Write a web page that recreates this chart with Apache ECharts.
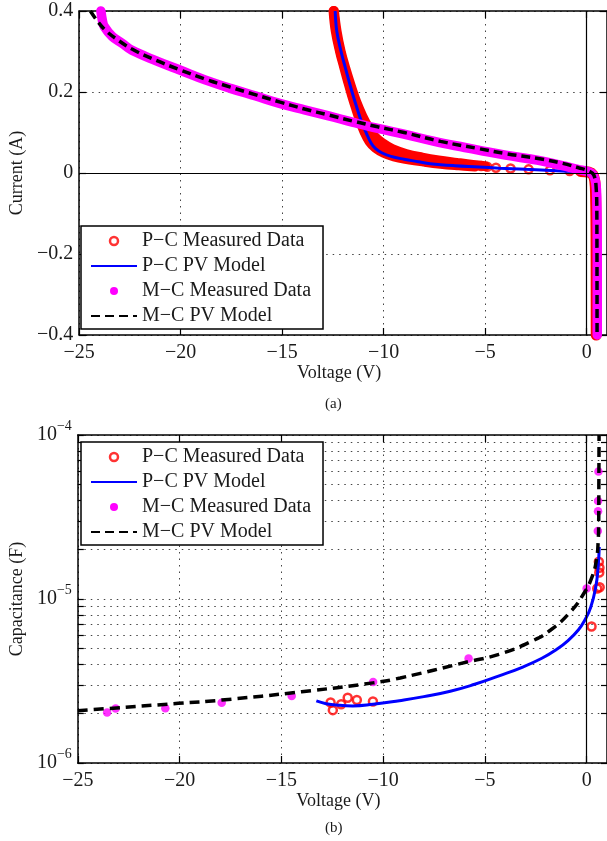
<!DOCTYPE html>
<html>
<head>
<meta charset="utf-8">
<script src="https://cdn.jsdelivr.net/npm/echarts@6/dist/echarts.min.js"></script>
<style>
  html, body { margin: 0; padding: 0; background: #fff; }
  #chart { width: 607px; height: 841px; }
</style>
</head>
<body>
<div id="chart"></div>
<script>
// ---- Panel (a): current vs. voltage, [V, A] ----
const pcMeasuredTail = [
  [-5.2, 0.017], [-4.9, 0.0155], [-4.47, 0.013], [-3.75, 0.011],
  [-2.86, 0.009], [-1.81, 0.007], [-0.84, 0.005]
];
const pcMeasuredSweepA = [
  [-12.47, 0.40], [-12.36, 0.35], [-12.15, 0.30], [-11.95, 0.262], [-11.75, 0.225],
  [-11.55, 0.19], [-11.35, 0.158], [-11.15, 0.128], [-10.95, 0.102], [-10.7, 0.078],
  [-10.4, 0.062], [-10.0, 0.050], [-9.5, 0.041], [-8.8, 0.034], [-8.0, 0.028],
  [-7.2, 0.023], [-6.3, 0.019], [-5.5, 0.016]
];
const pcMeasuredSweepB = [
  [-12.45, 0.40], [-12.32, 0.35], [-12.12, 0.30], [-11.9, 0.26], [-11.62, 0.215],
  [-11.35, 0.175], [-11.05, 0.14], [-10.75, 0.112], [-10.45, 0.09], [-10.05, 0.073],
  [-9.58, 0.059], [-8.9, 0.047], [-8.1, 0.038], [-7.3, 0.031], [-6.4, 0.025],
  [-5.6, 0.020], [-5.0, 0.017]
];
const pcMeasuredKnee = [
  [-0.3, 0.004], [0.1, 0.002], [0.3, -0.004], [0.4, -0.02], [0.44, -0.06],
  [0.46, -0.15], [0.47, -0.4]
];
const pcModelIV = [
  [-12.39, 0.40], [-12.31, 0.35], [-12.1, 0.30], [-11.9, 0.262], [-11.7, 0.225],
  [-11.5, 0.19], [-11.3, 0.158], [-11.1, 0.128], [-10.85, 0.098], [-10.6, 0.072],
  [-10.4, 0.060], [-10.1, 0.050], [-9.64, 0.041], [-9.0, 0.034], [-8.3, 0.028],
  [-7.7, 0.023], [-6.5, 0.018], [-5.3, 0.015], [-4.3, 0.012], [-3.0, 0.009],
  [-2.0, 0.007], [-1.0, 0.0045], [-0.3, 0.003], [0.05, 0.002], [0.25, 0.0],
  [0.35, -0.01], [0.4, -0.03], [0.43, -0.08], [0.45, -0.2], [0.46, -0.4]
];
const mcMeasuredIV = [
  [-23.93, 0.40], [-23.85, 0.375], [-23.77, 0.362], [-23.37, 0.337], [-22.88, 0.32],
  [-22.4, 0.303], [-21.2, 0.277], [-19.98, 0.253], [-18.8, 0.23], [-17.55, 0.209],
  [-16.3, 0.19], [-15.13, 0.172], [-13.9, 0.156], [-12.71, 0.141], [-11.5, 0.125],
  [-10.29, 0.110], [-9.0, 0.096], [-7.5, 0.078], [-6.0, 0.063], [-5.28, 0.056],
  [-4.0, 0.044], [-2.37, 0.031], [-1.2, 0.018], [-0.44, 0.009], [0.1, 0.003],
  [0.3, -0.003], [0.45, -0.025], [0.5, -0.07], [0.52, -0.2], [0.52, -0.4]
];
const mcModelIV = [
  [-24.45, 0.40], [-24.1, 0.375], [-23.7, 0.352], [-23.2, 0.332], [-22.4, 0.306],
  [-21.2, 0.278], [-20.0, 0.254], [-18.8, 0.232], [-17.55, 0.212], [-16.3, 0.193],
  [-15.1, 0.175], [-13.9, 0.158], [-12.7, 0.143], [-11.5, 0.128], [-10.3, 0.114],
  [-9.0, 0.100], [-7.2, 0.078], [-5.3, 0.060], [-4.0, 0.048], [-2.4, 0.036],
  [-1.2, 0.024], [-0.4, 0.013], [0.1, 0.005], [0.35, -0.005], [0.47, -0.04],
  [0.5, -0.1], [0.51, -0.4]
];

// ---- Panel (b): capacitance vs. voltage, [V, F] ----
const pcMeasuredCV = [
  [-12.58, 2.34e-6], [-12.47, 2.10e-6], [-12.06, 2.28e-6], [-11.74, 2.50e-6],
  [-11.29, 2.42e-6], [-10.50, 2.37e-6], [0.24, 6.8e-6], [0.52, 1.16e-5],
  [0.64, 1.18e-5], [0.62, 1.45e-5], [0.60, 1.69e-5], [0.63, 1.55e-5]
];
const pcModelCV = [
  [-13.28, 2.39e-6], [-12.8, 2.30e-6], [-12.2, 2.25e-6], [-11.5, 2.23e-6],
  [-10.5, 2.28e-6], [-9.2, 2.40e-6], [-8.0, 2.54e-6], [-6.7, 2.74e-6],
  [-5.5, 3.02e-6], [-4.3, 3.40e-6], [-3.2, 3.82e-6], [-2.2, 4.35e-6],
  [-1.5, 4.9e-6], [-0.9, 5.6e-6], [-0.4, 6.5e-6], [-0.1, 7.4e-6],
  [0.2, 8.9e-6], [0.45, 1.19e-5], [0.56, 1.55e-5], [0.62, 2.08e-5]
];
const mcMeasuredCV = [
  [-23.56, 2.03e-6], [-23.14, 2.15e-6], [-20.70, 2.16e-6], [-17.93, 2.33e-6],
  [-14.49, 2.56e-6], [-10.49, 3.12e-6], [-5.80, 4.33e-6], [0.0, 1.16e-5],
  [0.55, 2.6e-5], [0.56, 3.43e-5], [0.56, 3.96e-5], [0.58, 6.0e-5]
];
const mcModelCV = [
  [-25, 2.08e-6], [-23.7, 2.14e-6], [-20.06, 2.31e-6], [-17.93, 2.42e-6],
  [-14.0, 2.72e-6], [-10.5, 3.08e-6], [-9.16, 3.3e-6], [-5.8, 4.15e-6],
  [-4.31, 4.6e-6], [-2.74, 5.5e-6], [-1.77, 6.47e-6], [-0.78, 8.4e-6],
  [-0.14, 1.08e-5], [0.27, 1.37e-5], [0.48, 1.73e-5], [0.57, 2.3e-5],
  [0.59, 2.8e-5], [0.6, 5.0e-5], [0.61, 1.0e-4]
];

// ---- axis ticks and labels ----
const voltageTicks = [-25, -20, -15, -10, -5, 0];
const currentTicks = [-0.4, -0.2, 0, 0.2, 0.4];
const capDecades = [1e-6, 1e-5, 1e-4];
const capGridTicks = [
  1e-6, 2e-6, 3e-6, 4e-6, 5e-6, 6e-6, 7e-6, 8e-6, 9e-6,
  1e-5, 2e-5, 3e-5, 4e-5, 5e-5, 6e-5, 7e-5, 8e-5, 9e-5, 1e-4
];
const legendNames = ['P−C Measured Data', 'P−C PV Model', 'M−C Measured Data', 'M−C PV Model'];

const SERIF = '"Liberation Serif", "DejaVu Serif", serif';
const TEXT = '#1a1a1a';
const RED = '#ff0000', BLUE = '#0000ff', MAGENTA = '#ff00ff';
const CLEAR = 'rgba(0,0,0,0)';

const fmtSigned = v => (v < 0 ? '−' + Math.abs(v) : String(v));
const fmtPow = v => {
  const e = Math.round(Math.log10(v));
  return '10{e|' + (e < 0 ? '−' : '') + Math.abs(e) + '}';
};

const gridDots = { show: true, lineStyle: { type: [1.5, 5], color: '#444', width: 1 } };
const axisLine = { show: true, onZero: false, lineStyle: { color: '#000', width: 1.5 } };

function tickCfg(values, len) {
  return { show: true, inside: true, length: len, customValues: values,
           lineStyle: { color: '#000', width: 1.2 } };
}

function xAxes(gridIndex) {
  return [
    {
      type: 'value', gridIndex, position: 'bottom', min: -25, max: 1,
      axisLine, axisTick: tickCfg(voltageTicks, 7),
      axisLabel: { customValues: voltageTicks, formatter: fmtSigned, margin: 8,
                   fontFamily: SERIF, fontSize: 20, color: TEXT },
      splitLine: gridDots,
      name: 'Voltage (V)', nameLocation: 'middle', nameGap: 29,
      nameTextStyle: { fontFamily: SERIF, fontSize: 18, color: TEXT, padding: [0, 8, 0, 0] }
    },
    {
      type: 'value', gridIndex, position: 'top', min: -25, max: 1,
      axisLine, axisTick: tickCfg(voltageTicks, 7),
      axisLabel: { show: false }, splitLine: { show: false }
    }
  ];
}

const leftName = text => ({
  name: text, nameLocation: 'middle', nameGap: 50, nameRotate: 90,
  nameTextStyle: { fontFamily: SERIF, fontSize: 18, color: TEXT }
});

function legendCfg(top) {
  return {
    orient: 'vertical', left: 81, top,
    itemWidth: 46, itemHeight: 8, itemGap: 5,
    padding: [5, 12, 3, 9],
    backgroundColor: '#fff', borderColor: '#000', borderWidth: 1.5, borderRadius: 0,
    selectedMode: false, z: 10,
    textStyle: { fontFamily: SERIF, fontSize: 20, color: TEXT },
    data: [
      { name: legendNames[0], icon: 'circle',
        itemStyle: { color: CLEAR, borderColor: RED, borderWidth: 2.5 } },
      { name: legendNames[1], itemStyle: { color: CLEAR, borderColor: CLEAR, borderWidth: 0 } },
      { name: legendNames[2], icon: 'circle',
        itemStyle: { color: MAGENTA, borderWidth: 0 } },
      { name: legendNames[3], itemStyle: { color: CLEAR, borderColor: CLEAR, borderWidth: 0 } }
    ]
  };
}

const thick = (color, width) => ({ color, width, cap: 'round', join: 'round' });

const option = {
  animation: false,
  backgroundColor: '#fff',
  grid: [
    { left: 73, top: 11, width: 534, height: 324 },
    { left: 72, top: 435, width: 538, height: 328 }
  ],
  xAxis: [...xAxes(0), ...xAxes(1)],
  yAxis: [
    Object.assign({
      type: 'value', gridIndex: 0, position: 'left', min: -0.4, max: 0.4, interval: 0.2,
      axisLine, axisTick: tickCfg(currentTicks, 7),
      axisLabel: { customValues: currentTicks, formatter: fmtSigned, margin: 6,
                   fontFamily: SERIF, fontSize: 20, color: TEXT },
      splitLine: gridDots
    }, leftName('Current (A)')),
    {
      type: 'value', gridIndex: 0, position: 'right', min: -0.4, max: 0.4, interval: 0.2,
      axisLine, axisTick: tickCfg(currentTicks, 7),
      axisLabel: { show: false }, splitLine: { show: false }
    },
    Object.assign({
      type: 'log', logBase: 10, gridIndex: 1, position: 'left', min: 1e-6, max: 1e-4,
      axisLine, axisTick: tickCfg(capGridTicks, 6),
      axisLabel: { customValues: capDecades, formatter: fmtPow, margin: 6,
                   fontFamily: SERIF, fontSize: 20, color: TEXT,
                   rich: { e: { fontFamily: SERIF, fontSize: 14, color: TEXT, padding: [0, 0, 18, 0] } } },
      splitLine: gridDots
    }, leftName('Capacitance (F)')),
    {
      type: 'log', logBase: 10, gridIndex: 1, position: 'right', min: 1e-6, max: 1e-4,
      axisLine, axisTick: tickCfg(capGridTicks, 6),
      axisLabel: { show: false }, splitLine: { show: false }
    }
  ],
  legend: [legendCfg(226), legendCfg(442)],
  graphic: [
    { type: 'text', left: 325, top: 397, style: { text: '(a)', font: '15px ' + SERIF, fill: TEXT } },
    { type: 'text', left: 325, top: 821, style: { text: '(b)', font: '15px ' + SERIF, fill: TEXT } }
  ],
  series: [
    // panel (a)
    {
      name: legendNames[0], type: 'scatter', xAxisIndex: 0, yAxisIndex: 0,
      data: pcMeasuredTail, symbol: 'circle', symbolSize: 8,
      itemStyle: { color: CLEAR, borderColor: RED, borderWidth: 2.5 },
      markLine: {
        silent: true, symbol: 'none', label: { show: false },
        lineStyle: { color: '#000', width: 1.2, type: 'solid' },
        data: [{ xAxis: 0 }, { yAxis: 0 }]
      }
    },
    { name: legendNames[0], type: 'line', xAxisIndex: 0, yAxisIndex: 0, data: pcMeasuredSweepA,
      symbol: 'none', smooth: 0.4, clip: false, lineStyle: thick(RED, 10) },
    { name: legendNames[0], type: 'line', xAxisIndex: 0, yAxisIndex: 0, data: pcMeasuredSweepB,
      symbol: 'none', smooth: 0.4, clip: false, lineStyle: thick(RED, 10) },
    { name: legendNames[0], type: 'line', xAxisIndex: 0, yAxisIndex: 0, data: pcMeasuredKnee,
      symbol: 'none', smooth: 0.4, clip: false, lineStyle: thick(RED, 11) },
    { name: legendNames[1], type: 'line', xAxisIndex: 0, yAxisIndex: 0, data: pcModelIV,
      symbol: 'none', smooth: 0.4, lineStyle: { color: BLUE, width: 3 } },
    { name: legendNames[2], type: 'line', xAxisIndex: 0, yAxisIndex: 0, data: mcMeasuredIV,
      symbol: 'none', smooth: 0.4, clip: false, itemStyle: { color: MAGENTA },
      lineStyle: thick(MAGENTA, 9.5) },
    { name: legendNames[3], type: 'line', xAxisIndex: 0, yAxisIndex: 0, data: mcModelIV,
      symbol: 'none', smooth: 0.4, itemStyle: { color: '#000' },
      lineStyle: { color: '#000', width: 3.5, type: [9, 5] } },

    // panel (b)
    {
      name: legendNames[0], type: 'scatter', xAxisIndex: 2, yAxisIndex: 2,
      data: pcMeasuredCV, symbol: 'circle', symbolSize: 8, clip: false,
      itemStyle: { color: CLEAR, borderColor: RED, borderWidth: 2.5 },
      markLine: {
        silent: true, symbol: 'none', label: { show: false },
        lineStyle: { color: '#000', width: 1.2, type: 'solid' },
        data: [{ xAxis: 0 }]
      }
    },
    { name: legendNames[1], type: 'line', xAxisIndex: 2, yAxisIndex: 2, data: pcModelCV,
      symbol: 'none', smooth: 0.5, lineStyle: { color: BLUE, width: 3 } },
    { name: legendNames[2], type: 'scatter', xAxisIndex: 2, yAxisIndex: 2, data: mcMeasuredCV,
      symbol: 'circle', symbolSize: 8.5, clip: false, itemStyle: { color: MAGENTA } },
    { name: legendNames[3], type: 'line', xAxisIndex: 2, yAxisIndex: 2, data: mcModelCV,
      symbol: 'none', smooth: 0.5, itemStyle: { color: '#000' },
      lineStyle: { color: '#000', width: 3.5, type: [10, 6] } }
  ]
};

const chart = echarts.init(document.getElementById('chart'), null, { renderer: 'canvas' });
chart.setOption(option);
</script>
</body>
</html>
